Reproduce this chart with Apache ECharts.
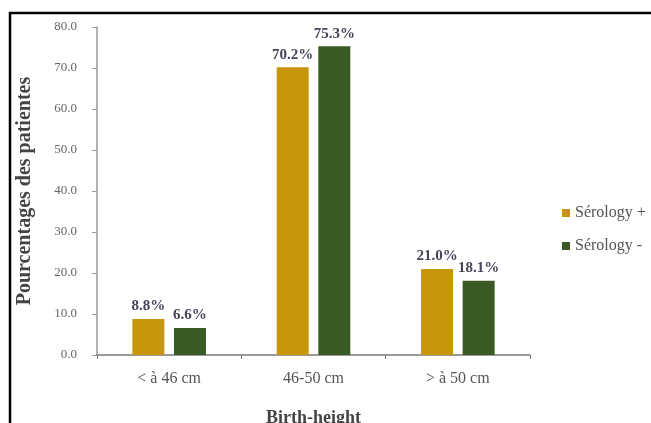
<!DOCTYPE html>
<html>
<head>
<meta charset="utf-8">
<script src="https://cdn.jsdelivr.net/npm/echarts@6/dist/echarts.min.js"></script>
<style>
  html, body { margin: 0; padding: 0; background: #fff; }
  #chart { width: 651px; height: 423px; }
</style>
</head>
<body>
<div id="chart"></div>
<script>
// Birth height groups and share of patients per serology status (%)
var categories = ['< à 46 cm', '46-50 cm', '> à 50 cm'];
var serologyPos = [8.8, 70.2, 21.0];
var serologyNeg = [6.6, 75.3, 18.1];
var seriesNames = ['Sérology +', 'Sérology -'];
var yTicks = { min: 0, max: 80, interval: 10 };

var serif = '"Liberation Serif", "DejaVu Serif", serif';
var chart = echarts.init(document.getElementById('chart'), null, { renderer: 'canvas' });

function barLabel() {
  return {
    show: true,
    position: 'top',
    distance: 5,
    fontFamily: serif,
    fontWeight: 'bold',
    fontSize: 15,
    color: '#45455a',
    formatter: function (p) { return p.value.toFixed(1) + '%'; }
  };
}

chart.setOption({
  animation: false,
  backgroundColor: '#fff',
  graphic: [{
    type: 'rect',
    shape: { x: 10, y: 13, width: 660, height: 430 },
    style: { fill: 'none', stroke: '#000', lineWidth: 2.5 },
    silent: true
  }],
  grid: { left: 97, top: 27, right: 121, bottom: 68, outerBoundsMode: 'none', containLabel: false },
  legend: {
    orient: 'vertical',
    left: 557,
    top: 200,
    itemWidth: 8,
    itemHeight: 8,
    itemGap: 17,
    icon: 'rect',
    textStyle: { fontFamily: serif, fontSize: 16, color: '#555' },
    data: seriesNames
  },
  xAxis: {
    type: 'category',
    data: categories,
    name: 'Birth-height',
    nameLocation: 'middle',
    nameGap: 54,
    nameTextStyle: { fontFamily: serif, fontWeight: 'bold', fontSize: 18, color: '#444' },
    axisLine: { lineStyle: { color: '#7a7a7a', width: 1.5 } },
    axisTick: { show: true, length: 4, lineStyle: { color: '#7a7a7a' } },
    axisLabel: { fontFamily: serif, fontSize: 16, color: '#555', margin: 16 }
  },
  yAxis: {
    type: 'value',
    min: yTicks.min,
    max: yTicks.max,
    interval: yTicks.interval,
    name: 'Pourcentages des patientes',
    nameLocation: 'middle',
    nameGap: 62,
    nameTextStyle: { fontFamily: serif, fontWeight: 'bold', fontSize: 20, color: '#444' },
    axisLine: { show: true, lineStyle: { color: '#9a9a9a', width: 1.5 } },
    axisTick: { show: true, length: 5, lineStyle: { color: '#9a9a9a' } },
    splitLine: { show: false },
    axisLabel: {
      fontFamily: serif, fontSize: 13, color: '#666', margin: 20,
      formatter: function (v) { return v.toFixed(1); }
    }
  },
  series: [
    {
      name: seriesNames[0],
      type: 'bar',
      data: serologyPos,
      barWidth: 32,
      barGap: '30%',
      itemStyle: { color: '#c8960a' },
      label: barLabel()
    },
    {
      name: seriesNames[1],
      type: 'bar',
      data: serologyNeg,
      barWidth: 32,
      itemStyle: { color: '#395a22' },
      label: barLabel()
    }
  ]
});
</script>
</body>
</html>
